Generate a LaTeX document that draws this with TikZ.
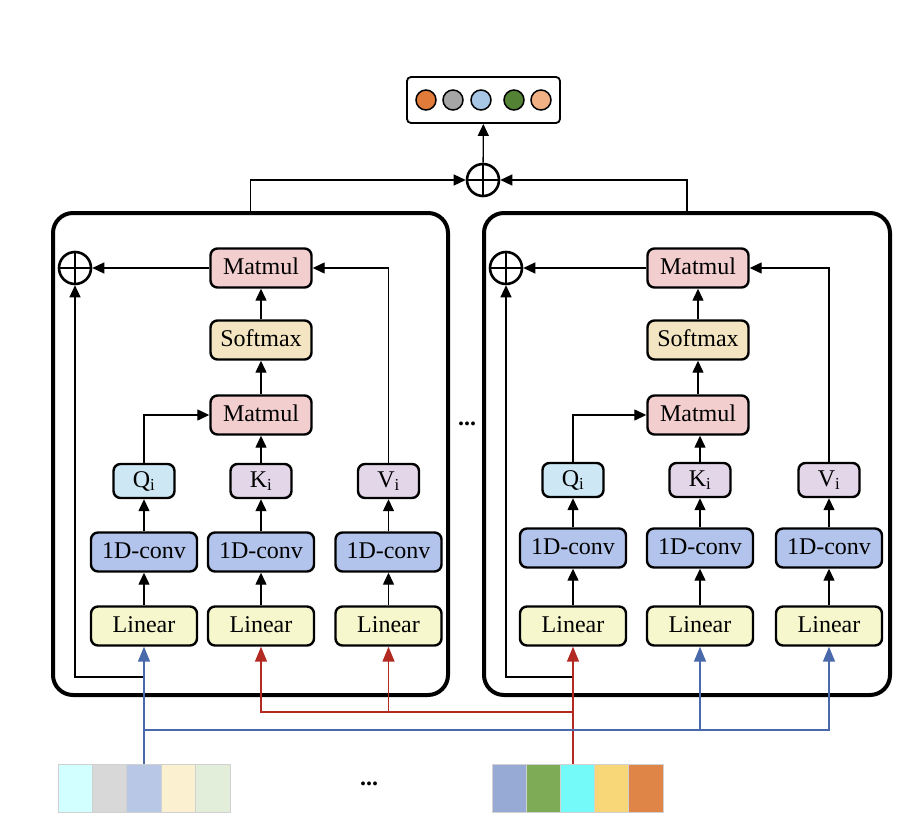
\documentclass[tikz,border=0pt]{standalone}
\usepackage{fontspec}
\setmainfont{Liberation Serif}
\usetikzlibrary{arrows.meta}
\definecolor{cmat}{HTML}{F3CECE}
\definecolor{csoft}{HTML}{F3E5C2}
\definecolor{cq}{HTML}{CDE8F4}
\definecolor{ckv}{HTML}{E2D6E8}
\definecolor{cconv}{HTML}{B3C4EC}
\definecolor{clin}{HTML}{F6F7CC}
\definecolor{lblue}{HTML}{4A69AB}
\definecolor{lred}{HTML}{B22A22}
\definecolor{o1}{HTML}{E07B39}
\definecolor{o2}{HTML}{A5A5A5}
\definecolor{o3}{HTML}{A8C6E6}
\definecolor{o4}{HTML}{548235}
\definecolor{o5}{HTML}{F2B185}
\definecolor{ta1c}{HTML}{D2FFFF}
\definecolor{ta2c}{HTML}{D8D8D8}
\definecolor{ta3c}{HTML}{B8C7E6}
\definecolor{ta4c}{HTML}{FBF1D0}
\definecolor{ta5c}{HTML}{E2EEDA}
\definecolor{tb1c}{HTML}{97AAD6}
\definecolor{tb2c}{HTML}{7EAB56}
\definecolor{tb3c}{HTML}{75FAFA}
\definecolor{tb4c}{HTML}{F8D778}
\definecolor{tb5c}{HTML}{DF8547}
\tikzset{
  box/.style={draw, line width=2.4pt, rounded corners=7pt, inner sep=0pt, font=\fontsize{24}{27}\selectfont, text height=16.5pt, text depth=4pt},
  wide/.style={box, minimum width=106pt, minimum height=39pt},
  mid/.style={box, minimum width=101pt, minimum height=39pt},
  small/.style={box, minimum width=61pt, minimum height=34pt},
  bigbox/.style={draw, line width=4pt, rounded corners=20pt, minimum height=482pt, inner sep=0pt},
  oplus/.style={circle, draw, line width=2.6pt, minimum size=32pt, inner sep=0pt,
    path picture={\draw[line width=2.6pt] (path picture bounding box.north) -- (path picture bounding box.south)
      (path picture bounding box.west) -- (path picture bounding box.east);}},
  arr/.style={line width=1.3pt, -{Triangle[length=12pt,width=11pt]}},
  barr/.style={line width=1.5pt, draw=lblue, -{Triangle[length=15pt,width=12pt]}},
  rarr/.style={line width=1.5pt, draw=lred, -{Triangle[length=15pt,width=12pt]}},
  dot/.style={circle, draw, line width=1.5pt, minimum size=20pt, inner sep=0pt},
  tok/.style={draw=black!18, line width=0.8pt, minimum width=34.4pt, minimum height=48pt, inner sep=0pt},
  dots/.style={font=\fontsize{24}{27}\selectfont\bfseries}
}
\begin{document}
\begin{tikzpicture}[x=1pt,y=-1pt]
\useasboundingbox (0,0) rectangle (910,832);

% big blocks
\node[bigbox, minimum width=395pt] (L) at (250.5,454) {};
\node[bigbox, minimum width=406pt] (R) at (687,454) {};

% output
\node[draw, line width=1.8pt, rounded corners=4pt, minimum width=153pt, minimum height=46pt, inner sep=0pt] (out) at (483.5,100) {};
\node[dot, fill=o1] (c1) at (426,100) {};
\node[dot, fill=o2] (c2) at (453,100) {};
\node[dot, fill=o3] (c3) at (481,100) {};
\node[dot, fill=o4] (c4) at (514,100) {};
\node[dot, fill=o5] (c5) at (541,100) {};
\node[oplus] (top) at (483,180) {};
\draw[arr] (top) -- (out);
\draw[arr] (L.north) |- (top.west);
\draw[arr] (R.north) |- (top.east);

% left block
\node[oplus] (OL) at (75,268) {};
\node[mid, fill=cmat] (ML1) at (261,268) {Matmul};
\node[mid, fill=csoft] (SL) at (261,340) {Softmax};
\node[mid, fill=cmat] (ML2) at (261,415) {Matmul};
\node[small, fill=cq] (QL) at (144,481) {Q\textsubscript{i}};
\node[small, fill=ckv] (KL) at (261,481) {K\textsubscript{i}};
\node[small, fill=ckv] (VL) at (388.5,481) {V\textsubscript{i}};
\node[wide, fill=cconv] (CL1) at (144,552) {1D-conv};
\node[wide, fill=cconv] (CL2) at (261,552) {1D-conv};
\node[wide, fill=cconv] (CL3) at (388.5,552) {1D-conv};
\node[wide, fill=clin] (LL1) at (144,626) {Linear};
\node[wide, fill=clin] (LL2) at (261,626) {Linear};
\node[wide, fill=clin] (LL3) at (388.5,626) {Linear};
\draw[arr] (ML1) -- (OL);
\draw[arr] (SL) -- (ML1);
\draw[arr] (ML2) -- (SL);
\draw[arr] (KL) -- (ML2);
\draw[arr] (QL.north) |- (ML2.west);
\draw[arr] (VL.north) |- (ML1.east);
\foreach \c in {1,2,3} {
  \draw[arr] (LL\c) -- (CL\c);
}
\draw[arr] (CL1) -- (QL);
\draw[arr] (CL2) -- (KL);
\draw[arr] (CL3) -- (VL);
\coordinate (rsl) at (144,677);
\draw[arr] (rsl) -| (OL.south);

% right block
\node[oplus] (OR) at (506,268) {};
\node[mid, fill=cmat] (MR1) at (698,268) {Matmul};
\node[mid, fill=csoft] (SR) at (698,340) {Softmax};
\node[mid, fill=cmat] (MR2) at (698,415) {Matmul};
\node[small, fill=cq] (QR) at (573,480) {Q\textsubscript{i}};
\node[small, fill=ckv] (KR) at (700,480) {K\textsubscript{i}};
\node[small, fill=ckv] (VR) at (829,480) {V\textsubscript{i}};
\node[wide, fill=cconv] (CR1) at (573,548) {1D-conv};
\node[wide, fill=cconv] (CR2) at (700,548) {1D-conv};
\node[wide, fill=cconv] (CR3) at (829,548) {1D-conv};
\node[wide, fill=clin] (LR1) at (573,626) {Linear};
\node[wide, fill=clin] (LR2) at (700,626) {Linear};
\node[wide, fill=clin] (LR3) at (829,626) {Linear};
\draw[arr] (MR1) -- (OR);
\draw[arr] (SR) -- (MR1);
\draw[arr] (MR2) -- (SR);
\draw[arr] (KR.north) -- (KR.north |- MR2.south);
\draw[arr] (QR.north) |- (MR2.west);
\draw[arr] (VR.north) |- (MR1.east);
\foreach \c in {1,2,3} {
  \draw[arr] (LR\c) -- (CR\c);
}
\draw[arr] (CR1) -- (QR);
\draw[arr] (CR2) -- (KR);
\draw[arr] (CR3) -- (VR);
\coordinate (rsr) at (573,677);
\draw[arr] (rsr) -| (OR.south);

% dots
\node[dots] (d1) at (467,424) {...};
\node[dots] (d2) at (369,784) {...};

% tokens
\node[tok, fill=ta1c] (ta1) at (75.2,788) {};
\node[tok, fill=ta2c] (ta2) at (109.6,788) {};
\node[tok, fill=ta3c] (ta3) at (144,788) {};
\node[tok, fill=ta4c] (ta4) at (178.4,788) {};
\node[tok, fill=ta5c] (ta5) at (212.8,788) {};
\node[tok, fill=tb1c] (tb1) at (509.1,788) {};
\node[tok, fill=tb2c] (tb2) at (543.3,788) {};
\node[tok, fill=tb3c] (tb3) at (577.5,788) {};
\node[tok, fill=tb4c] (tb4) at (611.7,788) {};
\node[tok, fill=tb5c] (tb5) at (645.9,788) {};

% red connectors
\coordinate (rs) at (573,764);
\coordinate (rj) at (573,712);
\draw[rarr] (rs) -- (LR1.south);
\draw[rarr] (rj) -| (LL2.south);
\draw[rarr] (rj) -| (LL3.south);

% blue connectors
\coordinate (bj) at (144,730);
\draw[barr] (ta3.north) -- (LL1.south);
\draw[barr] (bj) -| (LR2.south);
\draw[barr] (bj) -| (LR3.south);
\end{tikzpicture}
\end{document}
